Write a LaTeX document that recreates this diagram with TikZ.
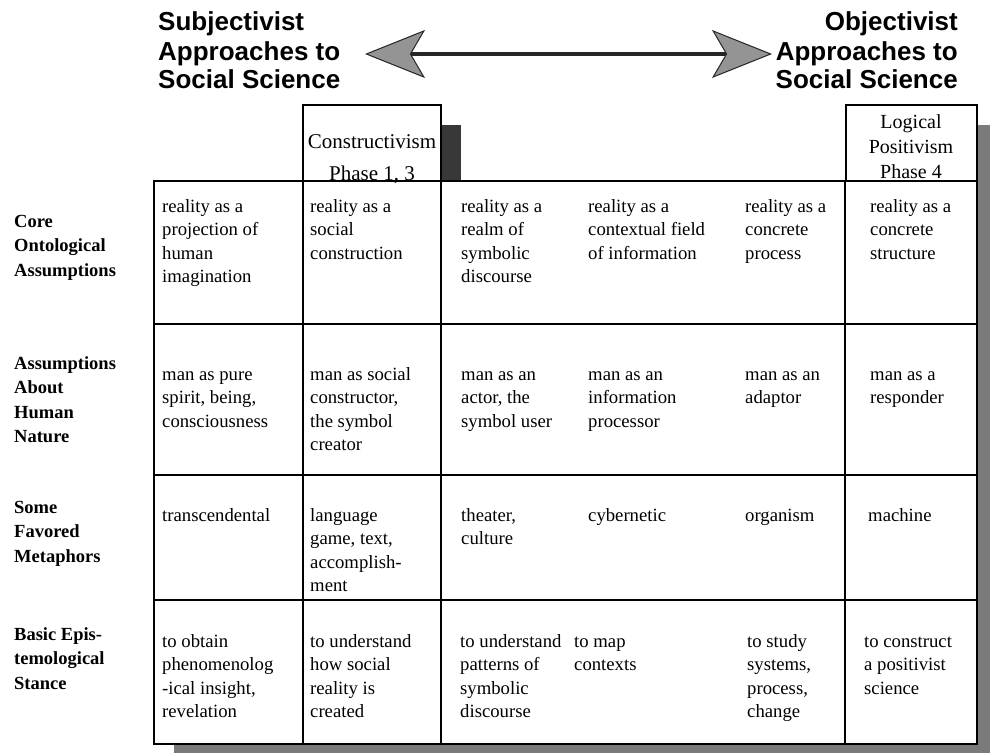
\documentclass[tikz,border=0pt]{standalone}
\usepackage{fontspec}
\setmainfont{Liberation Serif}
\newfontfamily\headsans{Liberation Sans}
\usetikzlibrary{arrows.meta}
% stacked lines whose reference point is the baseline of the first line
\newcommand\stackL[1]{\begin{tabular}[t]{@{}l@{}}#1\end{tabular}}
\newcommand\stackR[1]{\begin{tabular}[t]{@{}r@{}}#1\end{tabular}}
\newcommand\stackC[1]{\begin{tabular}[t]{@{}c@{}}#1\end{tabular}}

\begin{document}
\begin{tikzpicture}[x=1pt,y=-1pt,
  cell/.style={anchor=base west, inner sep=0pt,
    font=\fontsize{18.7}{23.6}\selectfont},
  rowlabel/.style={anchor=base west, inner sep=0pt,
    font=\fontsize{18.5}{24.5}\selectfont\bfseries},
  headtitle/.style={inner sep=0pt, font=\headsans\bfseries\fontsize{26}{29}\selectfont},
  colhead/.style={inner sep=0pt, anchor=base},
  tablerule/.style={line width=1.3pt},
  tableframe/.style={line width=2.4pt},
  boxline/.style={line width=1.4pt},
  dropshade/.style={fill=black!52},
  bigtip/.tip={Stealth[length=60pt,width=48pt,inset=14pt,fill=black!42,line width=1pt]}
]
\useasboundingbox (0,0) rectangle (990,752);
\clip (0,0) rectangle (990,752);

% titles
\node[headtitle, anchor=base west] (subj) at (158,31)
  {\stackL{Subjectivist\\Approaches to\\Social Science}};
\node[headtitle, anchor=base east] (obj) at (958,31)
  {\stackR{Objectivist\\Approaches to\\Social Science}};

% double arrow between the two titles
\coordinate (leftend) at (365,54);
\coordinate (rightend) at (772,54);
\draw[line width=4pt, black!85, bigtip-bigtip] (leftend) -- (rightend);

% drop shadows
\fill[dropshade] (174,201) rectangle (1000,770);
\fill[dropshade] (866,125) rectangle (1000,201);
\fill[black!78] (323,125) rectangle (461,201);

% white table body and column header boxes
\fill[white] (154,181) rectangle (977,744);
\fill[white] (303,105) rectangle (441,181);
\fill[white] (846,105) rectangle (977,181);
\draw[boxline] (303,181) -- (303,105) -- (441,105) -- (441,181);
\draw[boxline] (846,181) -- (846,105) -- (977,105) -- (977,181);

% column headers
\node[colhead, font=\fontsize{21}{25}\selectfont] (conname) at (372,148) {Constructivism};
\node[colhead, font=\fontsize{21}{25}\selectfont] (conphase) at (372,180) {Phase 1, 3};
\node[colhead, font=\fontsize{20}{25}\selectfont] (lpname) at (911,128)
  {\stackC{Logical\\Positivism\\Phase 4}};

% grid
\foreach \yy in {324,475,600} \draw[tablerule] (154,\yy) -- (977,\yy);
\foreach \xx in {303,441,845} \draw[tablerule] (\xx,181) -- (\xx,744);
\draw[tableframe] (154,181) rectangle (977,744);

% row labels
\node[rowlabel] (lab1) at (14,227) {\stackL{Core\\Ontological\\Assumptions}};
\node[rowlabel] (lab2) at (14,369) {\stackL{Assumptions\\About\\Human\\Nature}};
\node[rowlabel] (lab3) at (14,513) {\stackL{Some\\Favored\\Metaphors}};
\node[rowlabel] (lab4) at (14,640) {\stackL{Basic Epis-\\temological\\Stance}};

% row 1
\node[cell] (c11) at (162,212) {\stackL{reality as a\\projection of\\human\\imagination}};
\node[cell] (c12) at (310,212) {\stackL{reality as a\\social\\construction}};
\node[cell] (c13) at (461,212) {\stackL{reality as a\\realm of\\symbolic\\discourse}};
\node[cell] (c14) at (588,212) {\stackL{reality as a\\contextual field\\of information}};
\node[cell] (c15) at (745,212) {\stackL{reality as a\\concrete\\process}};
\node[cell] (c16) at (870,212) {\stackL{reality as a\\concrete\\structure}};

% row 2
\node[cell] (c21) at (162,380) {\stackL{man as pure\\spirit, being,\\consciousness}};
\node[cell] (c22) at (310,380) {\stackL{man as social\\constructor,\\the symbol\\creator}};
\node[cell] (c23) at (461,380) {\stackL{man as an\\actor, the\\symbol user}};
\node[cell] (c24) at (588,380) {\stackL{man as an\\information\\processor}};
\node[cell] (c25) at (745,380) {\stackL{man as an\\adaptor}};
\node[cell] (c26) at (870,380) {\stackL{man as a\\responder}};

% row 3
\node[cell] (c31) at (162,521) {transcendental};
\node[cell] (c32) at (310,521) {\stackL{language\\game, text,\\accomplish-\\ment}};
\node[cell] (c33) at (461,521) {\stackL{theater,\\culture}};
\node[cell] (c34) at (588,521) {cybernetic};
\node[cell] (c35) at (745,521) {organism};
\node[cell] (c36) at (868,521) {machine};

% row 4
\node[cell] (c41) at (162,647) {\stackL{to obtain\\phenomenolog\\-ical insight,\\revelation}};
\node[cell] (c42) at (310,647) {\stackL{to understand\\how social\\reality is\\created}};
\node[cell] (c43) at (460,647) {\stackL{to understand\\patterns of\\symbolic\\discourse}};
\node[cell] (c44) at (574,647) {\stackL{to map\\contexts}};
\node[cell] (c45) at (747,647) {\stackL{to study\\systems,\\process,\\change}};
\node[cell] (c46) at (864,647) {\stackL{to construct\\a positivist\\science}};
\end{tikzpicture}
\end{document}
